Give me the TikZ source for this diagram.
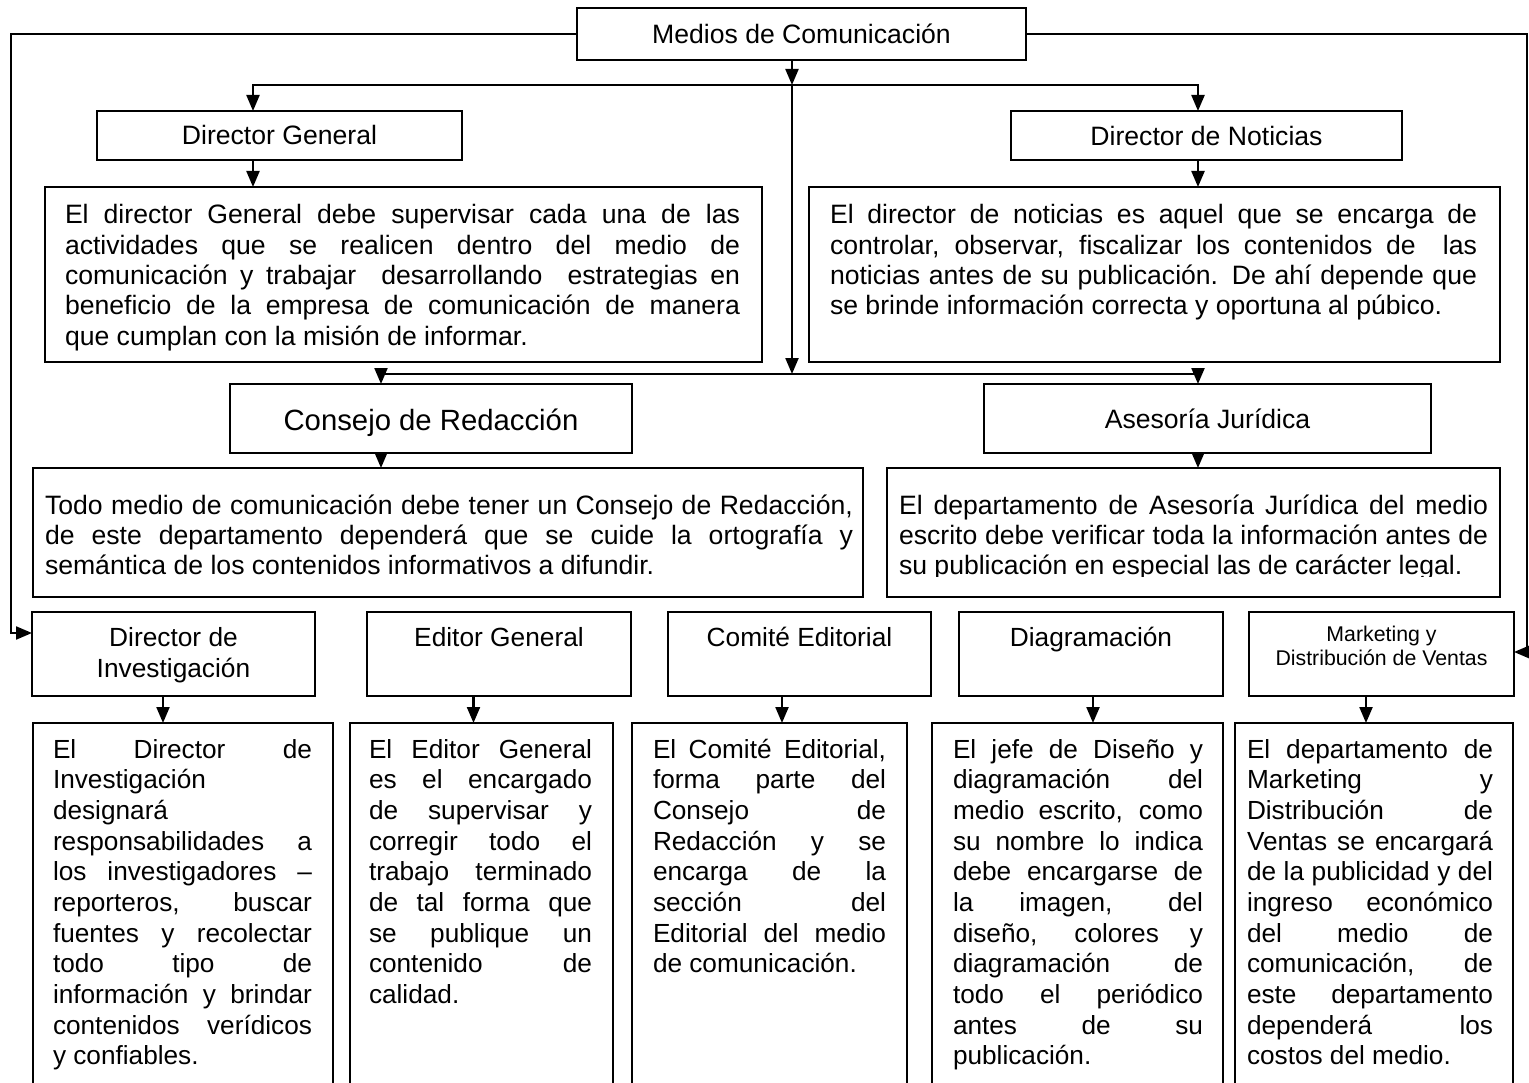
\documentclass[tikz,border=0pt]{standalone}
\usepackage{fontspec}
\setmainfont{Liberation Sans}
\usetikzlibrary{arrows.meta}
\newcommand\upbody{\fontsize{26.6}{30.3}\selectfont\hyphenpenalty=10000 \exhyphenpenalty=10000 \tolerance=10000 \hbadness=10000 }
\newcommand\lowbody{\fontsize{26.2}{30.67}\selectfont\hyphenpenalty=10000 \exhyphenpenalty=10000 \tolerance=10000 \hbadness=10000 }
\newcommand\uphead{\fontsize{26.6}{30}\selectfont}
\newcommand\bighead{\fontsize{29.3}{33}\selectfont}
\newcommand\lowhead{\fontsize{26.3}{31}\selectfont}
\newcommand\smallhead{\fontsize{21.3}{24}\selectfont}
\begin{document}
\begin{tikzpicture}[x=1pt,y=-1pt,
  >={Triangle[length=16pt,width=13pt]},
  box/.style={draw, rectangle, line width=2.5pt, inner sep=0pt, outer sep=0pt, anchor=north west},
  ln/.style={line width=2.2pt},
  arr/.style={line width=2.2pt,->},
  arrboth/.style={line width=2.2pt,<->},
  uptxt/.style={inner sep=0pt, outer sep=0pt, anchor=base west, align=justify, font=\upbody},
  lowtxt/.style={inner sep=0pt, outer sep=0pt, anchor=base west, align=justify, font=\lowbody},
  head/.style={inner sep=0pt, outer sep=0pt, anchor=base}]

\useasboundingbox (0,0) rectangle (1529,1083);
\fill[white] (0,0) rectangle (1529,1083);
\clip (0,0) rectangle (1529,1083);

% ---------- boxes ----------
\node[box, minimum width=449, minimum height=52] (medios) at (577,8) {};
\node[box, minimum width=365, minimum height=49] (dg) at (97,111) {};
\node[box, minimum width=391, minimum height=49] (dn) at (1011,111) {};
\node[box, minimum width=717, minimum height=175] (dgt) at (45,187) {};
\node[box, minimum width=691, minimum height=175] (dnt) at (809,187) {};
\node[box, minimum width=402, minimum height=69] (cons) at (230,384) {};
\node[box, minimum width=447, minimum height=69] (ases) at (984,384) {};
\node[box, minimum width=830, minimum height=129] (const) at (33,468) {};
\node[box, minimum width=613, minimum height=129] (asest) at (887,468) {};
\node[box, minimum width=283, minimum height=84] (di) at (32,612) {};
\node[box, minimum width=264, minimum height=84] (eg) at (367,612) {};
\node[box, minimum width=263, minimum height=84] (ce) at (668,612) {};
\node[box, minimum width=264, minimum height=84] (dia) at (959,612) {};
\node[box, minimum width=265, minimum height=84] (mkt) at (1249,612) {};
\node[box, minimum width=300, minimum height=420] (dit) at (33,723) {};
\node[box, minimum width=263, minimum height=420] (egt) at (350,723) {};
\node[box, minimum width=275, minimum height=420] (cet) at (632,723) {};
\node[box, minimum width=291, minimum height=420] (diat) at (932,723) {};
\node[box, minimum width=278, minimum height=420] (mktt) at (1235,723) {};

% ---------- headings ----------
\node[head, font=\uphead] (mediosl) at (801.5,43.5) {Medios de Comunicación};
\node[head, font=\uphead] (dgl) at (279.5,145) {Director General};
\node[head, font=\uphead] (dnl) at (1206.5,145.5) {Director de Noticias};
\node[head, font=\bighead] (consl) at (431,430) {Consejo de Redacción};
\node[head, font=\uphead] (asesl) at (1207.5,428.5) {Asesoría Jurídica};
\node[head, font=\lowhead] (dil1) at (173.5,646) {Director de};
\node[head, font=\lowhead] (dil2) at (173.5,677) {Investigación};
\node[head, font=\lowhead] (egl) at (499,646) {Editor General};
\node[head, font=\lowhead] (cel) at (799.5,646) {Comité Editorial};
\node[head, font=\lowhead] (dial) at (1091,646) {Diagramación};
\node[head, font=\smallhead] (mktl1) at (1381.5,641) {Marketing y};
\node[head, font=\smallhead] (mktl2) at (1381.5,665) {Distribución de Ventas};

% ---------- texts ----------
\node[uptxt, text width=675] (dgtx) at (65,224) {El director General debe supervisar cada una de las\linebreak actividades que se realicen dentro del medio de\linebreak comunicación y trabajar\ \ desarrollando\ \ estrategias en\linebreak beneficio de la empresa de comunicación de manera\linebreak que cumplan con la misión de informar.};
\node[uptxt, text width=647] (dntx) at (830,224) {El director de noticias es aquel que se encarga de\linebreak controlar, observar, fiscalizar los contenidos de\ \ las\linebreak noticias antes de su publicación. De ahí depende que\linebreak se brinde información correcta y oportuna al púbico.};
\begin{scope}
\clip (const.north west) rectangle (const.east |- 0,576.5);
\node[uptxt, text width=808] (consttx) at (45,514) {Todo medio de comunicación debe tener un Consejo de Redacción,\linebreak de este departamento dependerá que se cuide la ortografía y\linebreak semántica de los contenidos informativos a difundir.};
\end{scope}
\begin{scope}
\clip (asest.north west) rectangle (asest.east |- 0,576.5);
\node[uptxt, text width=589] (asesttx) at (899,514) {El departamento de Asesoría Jurídica del medio\linebreak escrito debe verificar toda la información antes de\linebreak su publicación en especial las de carácter legal.};
\end{scope}

\node[lowtxt, text width=259] (ditx) at (53,758) {El Director de\linebreak Investigación\newline designará\newline responsabilidades a\linebreak los investigadores –\linebreak reporteros, buscar\linebreak fuentes y recolectar\linebreak todo tipo de\linebreak información y brindar\linebreak contenidos verídicos\linebreak y confiables.};
\node[lowtxt, text width=223] (egtx) at (369,758) {El Editor General\linebreak es el encargado\linebreak de supervisar y\linebreak corregir todo el\linebreak trabajo terminado\linebreak de tal forma que\linebreak se publique un\linebreak contenido de\linebreak calidad.};
\node[lowtxt, text width=233] (cetx) at (653,758) {El Comité Editorial,\linebreak forma parte del\linebreak Consejo de\linebreak Redacción y se\linebreak encarga de la\linebreak sección del\linebreak Editorial del medio\linebreak de comunicación.};
\node[lowtxt, text width=250] (diatx) at (953,758) {El jefe de Diseño y\linebreak diagramación del\linebreak medio escrito, como\linebreak su nombre lo indica\linebreak debe encargarse de\linebreak la imagen, del\linebreak diseño, colores y\linebreak diagramación de\linebreak todo el periódico\linebreak antes de su\linebreak publicación.};
\node[lowtxt, text width=246] (mkttx) at (1247,758) {El departamento de\linebreak Marketing y\linebreak Distribución de\linebreak Ventas se encargará\linebreak de la publicidad y del\linebreak ingreso económico\linebreak del medio de\linebreak comunicación, de\linebreak este departamento\linebreak dependerá los\linebreak costos del medio.};

% ---------- connectors ----------
\coordinate (j1) at (792,85);
\coordinate (j2) at (792,374);
\coordinate (a1) at (253,85);
\coordinate (b1) at (1198,85);
\coordinate (a2) at (381,374);
\coordinate (b2) at (1198,374);
\coordinate (lc1) at (11,34);
\coordinate (lc2) at (11,633);
\coordinate (rc1) at (1527,34);
\coordinate (rc2) at (1527,652);
\coordinate (xdi) at (163,0);
\coordinate (xeg) at (473.5,0);
\coordinate (xce) at (782,0);
\coordinate (xdia) at (1093,0);
\coordinate (xmk) at (1366,0);

\draw[arr] (medios.south -| j1) -- (j1);
\draw[arr] (j1) -- (j2);
\draw[arrboth] (a1 |- dg.north) -- (a1) -- (b1) -- (b1 |- dn.north);
\draw[arr] (a1 |- dg.south) -- (a1 |- dgt.north);
\draw[arr] (b1 |- dn.south) -- (b1 |- dnt.north);
\draw[arrboth] (a2 |- cons.north) -- (a2) -- (b2) -- (b2 |- ases.north);
\draw[arr] (a2 |- cons.south) -- (a2 |- const.north);
\draw[arr] (b2 |- ases.south) -- (b2 |- asest.north);
\draw[arr] (medios.west) -- (lc1) -- (lc2) -- (lc2 -| di.west);
\draw[arr] (medios.east) -- (rc1) -- (rc2) -- (rc2 -| mkt.east);
\draw[arr] (di.south -| xdi) -- (dit.north -| xdi);
\draw[arr] (eg.south -| xeg) -- (egt.north -| xeg);
\draw[arr] (ce.south -| xce) -- (cet.north -| xce);
\draw[arr] (dia.south -| xdia) -- (diat.north -| xdia);
\draw[arr] (mkt.south -| xmk) -- (mktt.north -| xmk);
\end{tikzpicture}
\end{document}
